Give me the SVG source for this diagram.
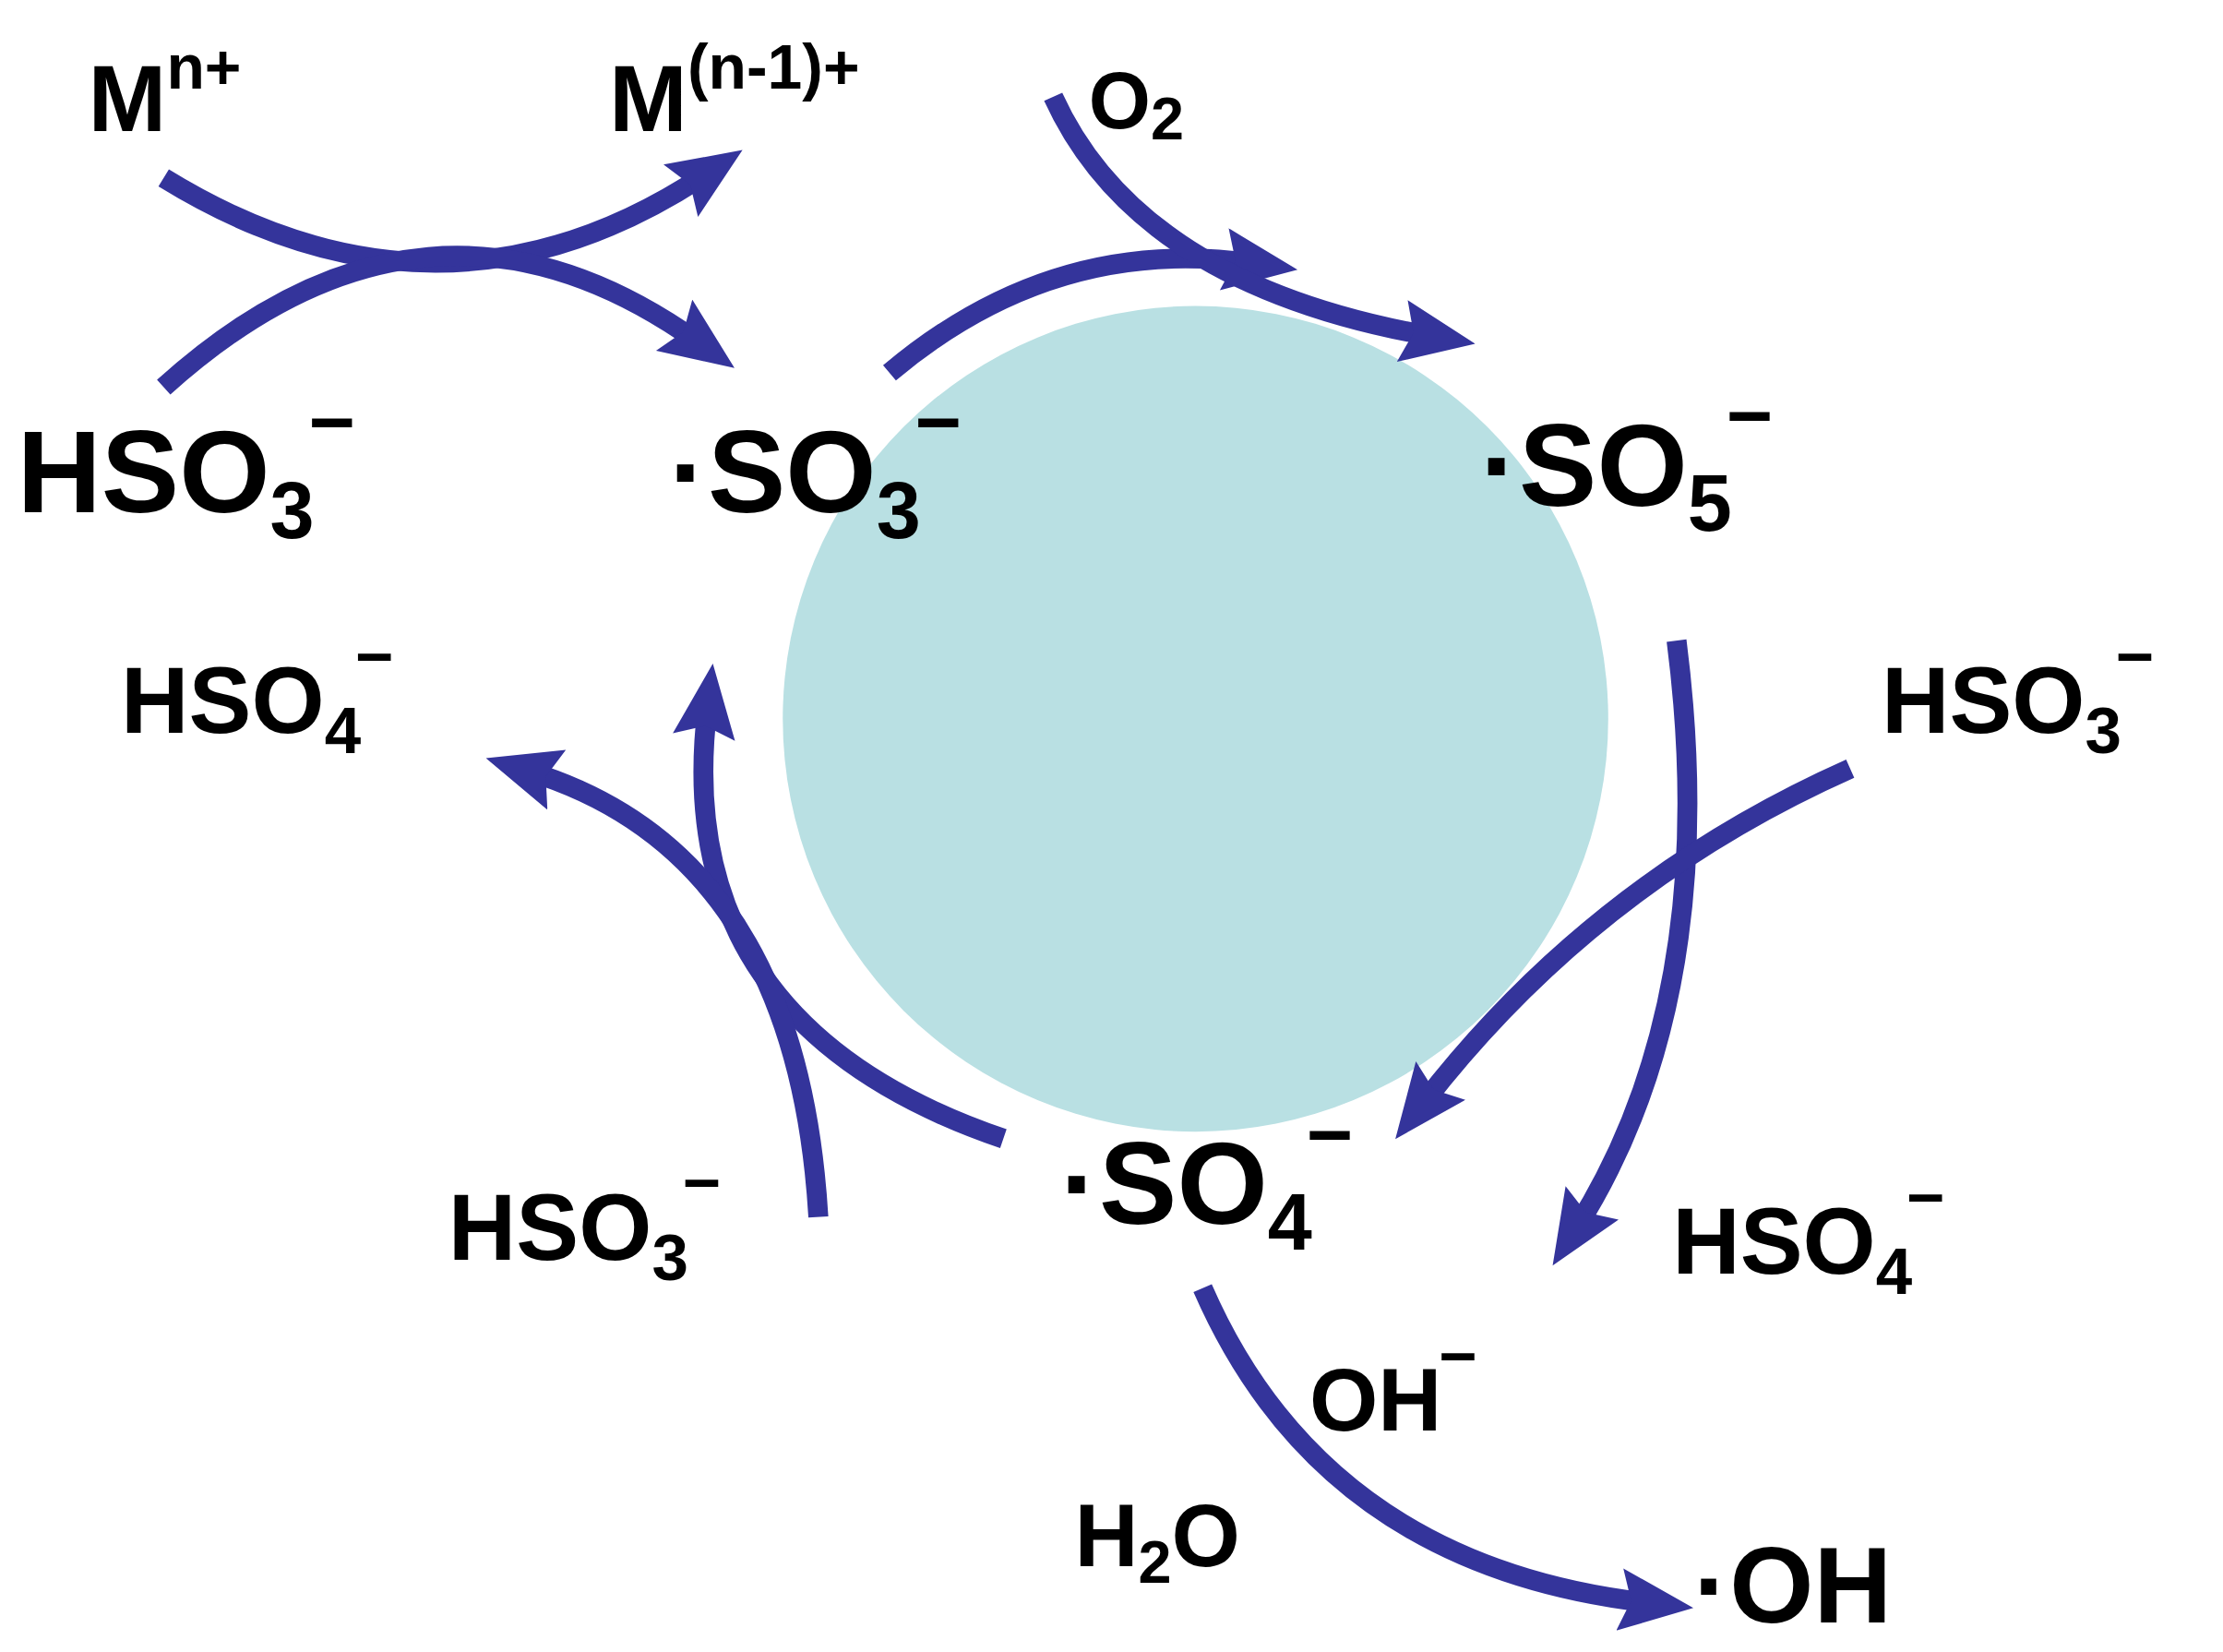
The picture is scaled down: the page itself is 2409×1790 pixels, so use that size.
<svg xmlns="http://www.w3.org/2000/svg" width="2409" height="1790" viewBox="0 0 2409 1790">
<style>
.a{fill:none;stroke:#34349b;stroke-width:14}
.t{font-family:"Liberation Sans",Arial,sans-serif;font-weight:bold;fill:#000}
</style>
<defs>
<marker id="h" markerUnits="userSpaceOnUse" markerWidth="60" markerHeight="50" refX="20" refY="22" orient="auto" viewBox="0 0 60 50">
<path d="M0,0 L52,22 L0,44 L8,22 Z" fill="#34349b"/>
</marker>
</defs>
<rect width="2409" height="1790" fill="#fff"/>
<g transform="scale(1.5423)">
<g id="circle"><circle cx="840" cy="505" r="290" fill="#b9e0e3"/></g>
<g id="connectors">
<path class="a" d="M115,125 Q310,245 495,123" marker-end="url(#h)"/>
<path class="a" d="M115,272 Q300,105 490,240" marker-end="url(#h)"/>
<path class="a" d="M625,262 Q740,165 880,185" marker-end="url(#h)"/>
<path class="a" d="M740,68 Q800,200 1005,236" marker-end="url(#h)"/>
<path class="a" d="M1178,450 Q1210,700 1108,862" marker-end="url(#h)"/>
<path class="a" d="M1300,540 Q1120,620 1000,775" marker-end="url(#h)"/>
<path class="a" d="M705,800 Q470,720 497,498" marker-end="url(#h)"/>
<path class="a" d="M575,855 Q560,600 372,542" marker-end="url(#h)"/>
<path class="a" d="M845,905 Q930,1100 1158,1126" marker-end="url(#h)"/>
</g>
<g id="n1"><text class="t" x="62" y="92" font-size="66">M<tspan font-size="44" dy="-30">n+</tspan></text></g>
<g id="n2"><text class="t" x="428" y="92" font-size="66">M<tspan font-size="44" dy="-30">(n-1)+</tspan></text></g>
<g id="n3"><text class="t" x="765" y="90" font-size="56" font-weight="normal">O<tspan font-size="42" dy="8">2</tspan></text></g>
<g id="n4"><text class="t" x="12" y="360" font-size="82">HSO<tspan font-size="56" dy="18">3</tspan><tspan font-size="56" dx="-4" dy="-62">−</tspan></text></g>
<g id="n5"><text class="t" x="470" y="360" font-size="82">·SO<tspan font-size="56" dy="18">3</tspan><tspan font-size="56" dx="-4" dy="-62">−</tspan></text></g>
<g id="n6"><text class="t" x="1040" y="355" font-size="82">·SO<tspan font-size="56" dy="18">5</tspan><tspan font-size="56" dx="-4" dy="-62">−</tspan></text></g>
<g id="n7"><text class="t" x="85" y="515" font-size="66">HSO<tspan font-size="46" dy="14">4</tspan><tspan font-size="46" dx="-4" dy="-52">−</tspan></text></g>
<g id="n8"><text class="t" x="1322" y="515" font-size="66">HSO<tspan font-size="46" dy="14">3</tspan><tspan font-size="46" dx="-4" dy="-52">−</tspan></text></g>
<g id="n9"><text class="t" x="315" y="885" font-size="66">HSO<tspan font-size="46" dy="14">3</tspan><tspan font-size="46" dx="-4" dy="-52">−</tspan></text></g>
<g id="n10"><text class="t" x="745" y="860" font-size="82">·SO<tspan font-size="56" dy="18">4</tspan><tspan font-size="56" dx="-4" dy="-62">−</tspan></text></g>
<g id="n11"><text class="t" x="1175" y="895" font-size="66">HSO<tspan font-size="46" dy="14">4</tspan><tspan font-size="46" dx="-4" dy="-52">−</tspan></text></g>
<g id="n12"><text class="t" x="920" y="1005" font-size="62">OH<tspan font-size="46" dx="-2" dy="-36">−</tspan></text></g>
<g id="n13"><text class="t" x="755" y="1100" font-size="62">H<tspan font-size="42" dy="12">2</tspan><tspan font-size="62" dy="-12">O</tspan></text></g>
<g id="n14"><text class="t" x="1190" y="1140" font-size="76">·OH</text></g>
</g>
</svg>
